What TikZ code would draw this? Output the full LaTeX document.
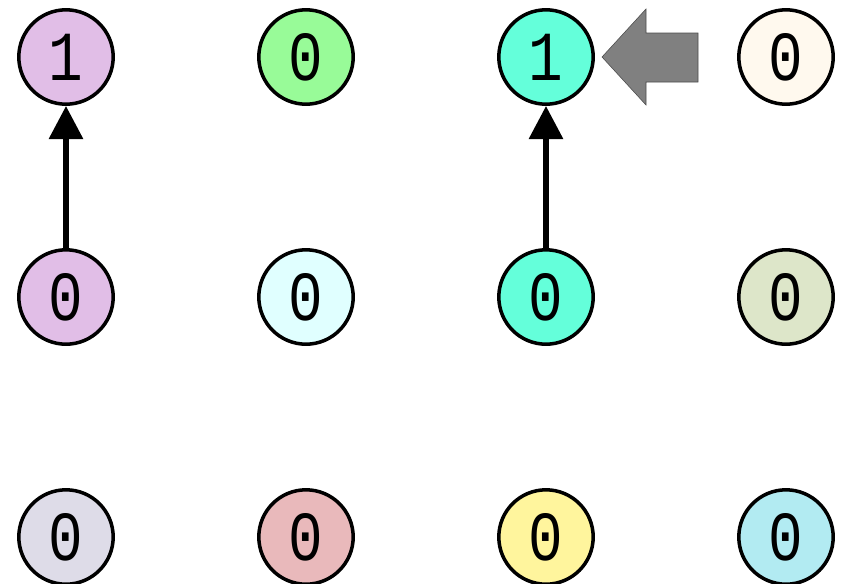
\documentclass[tikz,border=0pt]{standalone}
\usepackage{fontspec}
\setmonofont{Liberation Mono}[FakeStretch=0.82]
\usepackage{tikz}
\usetikzlibrary{arrows.meta, positioning, calc}
\definecolor{bitPurple}{HTML}{E1BEE7}
\definecolor{bitGreen}{HTML}{98FB98}
\definecolor{bitTeal}{HTML}{64FFDA}
\definecolor{bitCream}{HTML}{FFF9EE}
\definecolor{bitCyan}{HTML}{E0FFFF}
\definecolor{bitOlive}{HTML}{DDE6C9}
\definecolor{bitLavender}{HTML}{DEDCE8}
\definecolor{bitRose}{HTML}{E9B9BB}
\definecolor{bitYellow}{HTML}{FFF59D}
\definecolor{bitSky}{HTML}{B2EBF2}

\begin{document}
\begin{tikzpicture}[
  bit/.style={
    circle, draw=black, line width=2.5pt,
    minimum size=2.36cm, inner sep=0pt,
    font=\ttfamily\fontsize{50}{50}\selectfont
  },
  carry/.style={-{Triangle[width=0.83cm, length=0.83cm]}, line width=4.2pt},
  hint/.style={fill=gray, draw=black!70, line width=0.4pt},
  node distance=6cm, on grid
]
\useasboundingbox (-1.65,1.425) rectangle (19.55,-13.15);

% top row
\node[bit, fill=bitPurple] (top1) at (0,0) {1};
\node[bit, fill=bitGreen, right=of top1] (top2) {0};
\node[bit, fill=bitTeal, right=of top2] (top3) {1};
\node[bit, fill=bitCream, right=of top3] (top4) {0};

% middle row
\node[bit, fill=bitPurple, below=of top1] (mid1) {0};
\node[bit, fill=bitCyan, below=of top2] (mid2) {0};
\node[bit, fill=bitTeal, below=of top3] (mid3) {0};
\node[bit, fill=bitOlive, below=of top4] (mid4) {0};

% bottom row
\node[bit, fill=bitLavender, below=of mid1] (bot1) {0};
\node[bit, fill=bitRose, below=of mid2] (bot2) {0};
\node[bit, fill=bitYellow, below=of mid3] (bot3) {0};
\node[bit, fill=bitSky, below=of mid4] (bot4) {0};

\draw[carry] (mid1.north) -- (top1.south);
\draw[carry] (mid3.north) -- (top3.south);

% pointer to the changed bit
\draw[hint] ($(top3)+(1.4,0)$) -- ++(1.1,1.2) -- ++(0,-0.6) -- ++(1.3,0)
  -- ++(0,-1.225) -- ++(-1.3,0) -- ++(0,-0.575) -- cycle;

\end{tikzpicture}
\end{document}
